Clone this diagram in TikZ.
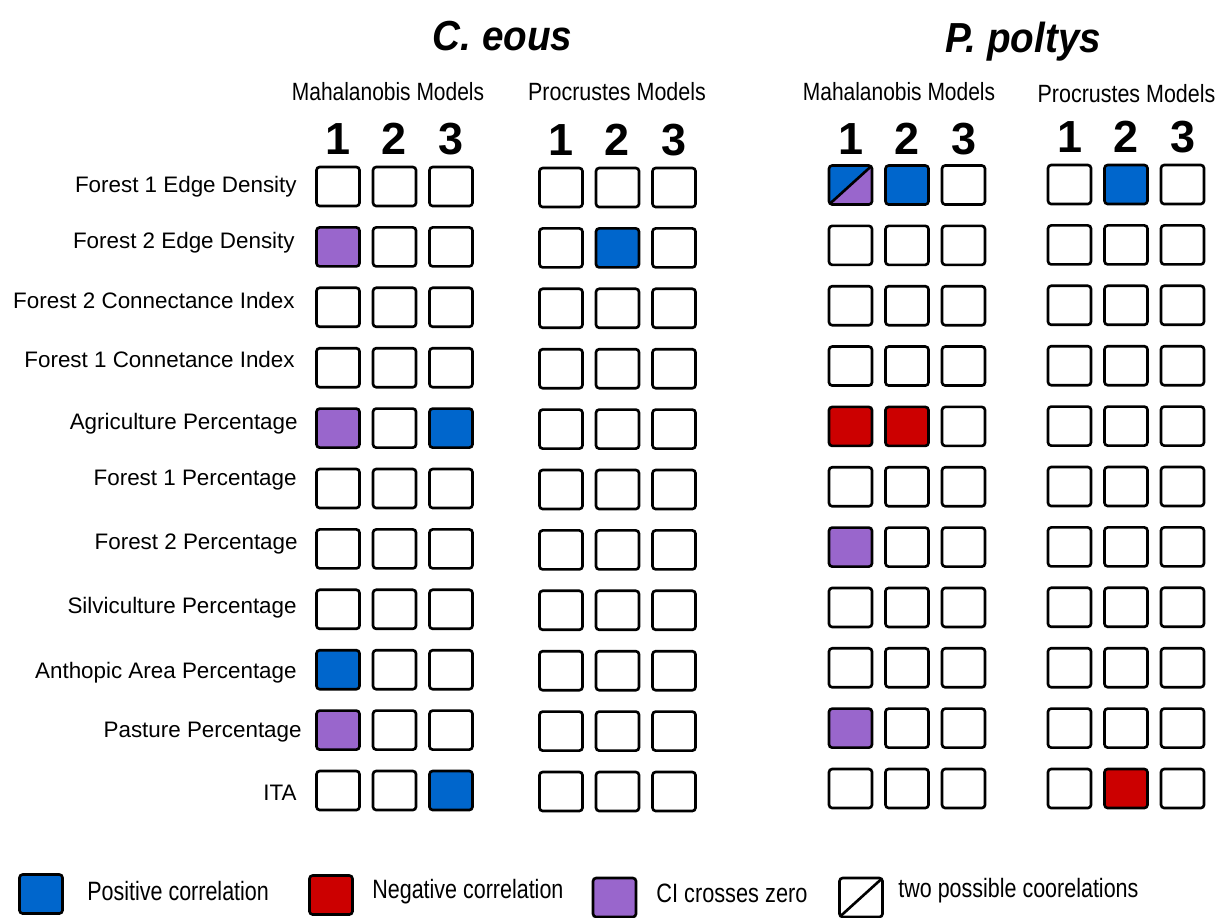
\documentclass[tikz,border=0pt]{standalone}
\usepackage{fontspec}
\setmainfont{Liberation Sans}
\usepackage{graphicx}
\definecolor{posblue}{RGB}{0,102,204}
\definecolor{negred}{RGB}{204,0,0}
\definecolor{cipurple}{RGB}{153,102,204}
\newcommand{\narrowtext}[2]{\scalebox{#1}[1]{#2}}
\tikzset{
  cell/.style={draw=black,fill=#1,line width=1.5pt,rounded corners=1.8pt,
    minimum width=0.86cm,minimum height=0.78cm,inner sep=0pt},
  cell/.default=white,
  emptycell/.style={cell=white},
  poscell/.style={cell=posblue},
  negcell/.style={cell=negred},
  cicell/.style={cell=cipurple},
  % two possible correlations: blue above the diagonal, purple below
  splitcell/.style={cell=posblue,path picture={
      \fill[cipurple] (path picture bounding box.south west) -| (path picture bounding box.north east) -- cycle;
      \draw[line width=1.5pt] (path picture bounding box.south west) -- (path picture bounding box.north east);}},
  diagcell/.style={cell=white,path picture={
      \draw[line width=1.5pt] (path picture bounding box.south west) -- (path picture bounding box.north east);}},
  rowlab/.style={anchor=base east,inner sep=0pt,font=\fontsize{12.75}{15}\selectfont},
  species/.style={anchor=base,inner sep=0pt,font=\fontsize{23.9}{28}\selectfont\bfseries\itshape},
  modelhead/.style={anchor=base,inner sep=0pt,font=\fontsize{14.2}{17}\selectfont},
  colnum/.style={anchor=base,inner sep=0pt,font=\fontsize{25.6}{30}\selectfont\bfseries},
  legtext/.style={anchor=base west,inner sep=0pt,font=\fontsize{15.1}{18}\selectfont},
}

\begin{document}
\begin{tikzpicture}[x=0.02cm,y=-0.02cm]
  \useasboundingbox (0,0) rectangle (1227,917);

  % species titles
  \node[species] (ceous) at (502.5,50) {\narrowtext{0.92}{C. eous}};
  \node[species] (poltys) at (1023,52) {\narrowtext{0.92}{P. poltys}};

  % model headings
  \node[modelhead] (cmah) at (388,100) {\narrowtext{0.84}{Mahalanobis Models}};
  \node[modelhead] (cpro) at (617,100) {\narrowtext{0.86}{Procrustes Models}};
  \node[modelhead] (pmah) at (899,100) {\narrowtext{0.84}{Mahalanobis Models}};
  \node[modelhead] (ppro) at (1126.5,102) {\narrowtext{0.86}{Procrustes Models}};

  % model numbers
  \foreach \grp/\gx/\gy in {cm/338/154,cp/561/155,pm/850.5/154,pp/1069.5/152}
    \foreach \k in {1,2,3}
      \node[colnum] (\grp-num\k) at ({\gx+56.5*(\k-1)},\gy) {\k};

  % row labels
  \foreach \txt/\lx/\ly [count=\i] in {Forest 1 Edge Density/297/184,
      Forest 2 Edge Density/295/240,Forest 2 Connectance Index/295/300,
      Forest 1 Connetance Index/295/359,Agriculture Percentage/298/421,
      Forest 1 Percentage/297/477,Forest 2 Percentage/298/541,
      Silviculture Percentage/297/605,Anthopic Area Percentage/297/670,
      Pasture Percentage/302/729,ITA/297/792.5}
    \node[rowlab] (lab\i) at (\lx,\ly+8) {\txt};

  % C. eous, Mahalanobis
  \foreach \ca/\cb/\cc [count=\i] in {emptycell/emptycell/emptycell,
      cicell/emptycell/emptycell,emptycell/emptycell/emptycell,
      emptycell/emptycell/emptycell,cicell/emptycell/poscell,
      emptycell/emptycell/emptycell,emptycell/emptycell/emptycell,
      emptycell/emptycell/emptycell,poscell/emptycell/emptycell,
      cicell/emptycell/emptycell,emptycell/emptycell/poscell}{
    \node[\ca] (cm-\i-1) at (338,{186.5+60.4*(\i-1)}) {};
    \node[\cb] (cm-\i-2) at (394.5,{186.5+60.4*(\i-1)}) {};
    \node[\cc] (cm-\i-3) at (451,{186.5+60.4*(\i-1)}) {};
  }

  % C. eous, Procrustes
  \foreach \ca/\cb/\cc [count=\i] in {emptycell/emptycell/emptycell,
      emptycell/poscell/emptycell,emptycell/emptycell/emptycell,
      emptycell/emptycell/emptycell,emptycell/emptycell/emptycell,
      emptycell/emptycell/emptycell,emptycell/emptycell/emptycell,
      emptycell/emptycell/emptycell,emptycell/emptycell/emptycell,
      emptycell/emptycell/emptycell,emptycell/emptycell/emptycell}{
    \node[\ca] (cp-\i-1) at (561,{187.5+60.4*(\i-1)}) {};
    \node[\cb] (cp-\i-2) at (617.5,{187.5+60.4*(\i-1)}) {};
    \node[\cc] (cp-\i-3) at (674,{187.5+60.4*(\i-1)}) {};
  }

  % P. poltys, Mahalanobis
  \foreach \ca/\cb/\cc [count=\i] in {splitcell/poscell/emptycell,
      emptycell/emptycell/emptycell,emptycell/emptycell/emptycell,
      emptycell/emptycell/emptycell,negcell/negcell/emptycell,
      emptycell/emptycell/emptycell,cicell/emptycell/emptycell,
      emptycell/emptycell/emptycell,emptycell/emptycell/emptycell,
      cicell/emptycell/emptycell,emptycell/emptycell/emptycell}{
    \node[\ca] (pm-\i-1) at (850.5,{185+60.35*(\i-1)}) {};
    \node[\cb] (pm-\i-2) at (907,{185+60.35*(\i-1)}) {};
    \node[\cc] (pm-\i-3) at (963.5,{185+60.35*(\i-1)}) {};
  }

  % P. poltys, Procrustes
  \foreach \ca/\cb/\cc [count=\i] in {emptycell/poscell/emptycell,
      emptycell/emptycell/emptycell,emptycell/emptycell/emptycell,
      emptycell/emptycell/emptycell,emptycell/emptycell/emptycell,
      emptycell/emptycell/emptycell,emptycell/emptycell/emptycell,
      emptycell/emptycell/emptycell,emptycell/emptycell/emptycell,
      emptycell/emptycell/emptycell,emptycell/negcell/emptycell}{
    \node[\ca] (pp-\i-1) at (1069.5,{184.5+60.4*(\i-1)}) {};
    \node[\cb] (pp-\i-2) at (1126,{184.5+60.4*(\i-1)}) {};
    \node[\cc] (pp-\i-3) at (1182.5,{184.5+60.4*(\i-1)}) {};
  }

  % legend
  \node[poscell] (leg-pos) at (41,894) {};
  \node[legtext] (leg-pos-txt) at (87,900) {\narrowtext{0.81}{Positive correlation}};
  \node[negcell] (leg-neg) at (331,895) {};
  \node[legtext] (leg-neg-txt) at (372,898) {\narrowtext{0.81}{Negative correlation}};
  \node[cicell] (leg-ci) at (614.5,897.5) {};
  \node[legtext] (leg-ci-txt) at (656,902) {\narrowtext{0.82}{CI crosses zero}};
  \node[diagcell] (leg-two) at (861,897.5) {};
  \node[legtext] (leg-two-txt) at (898,897) {\narrowtext{0.81}{two possible coorelations}};
\end{tikzpicture}
\end{document}
